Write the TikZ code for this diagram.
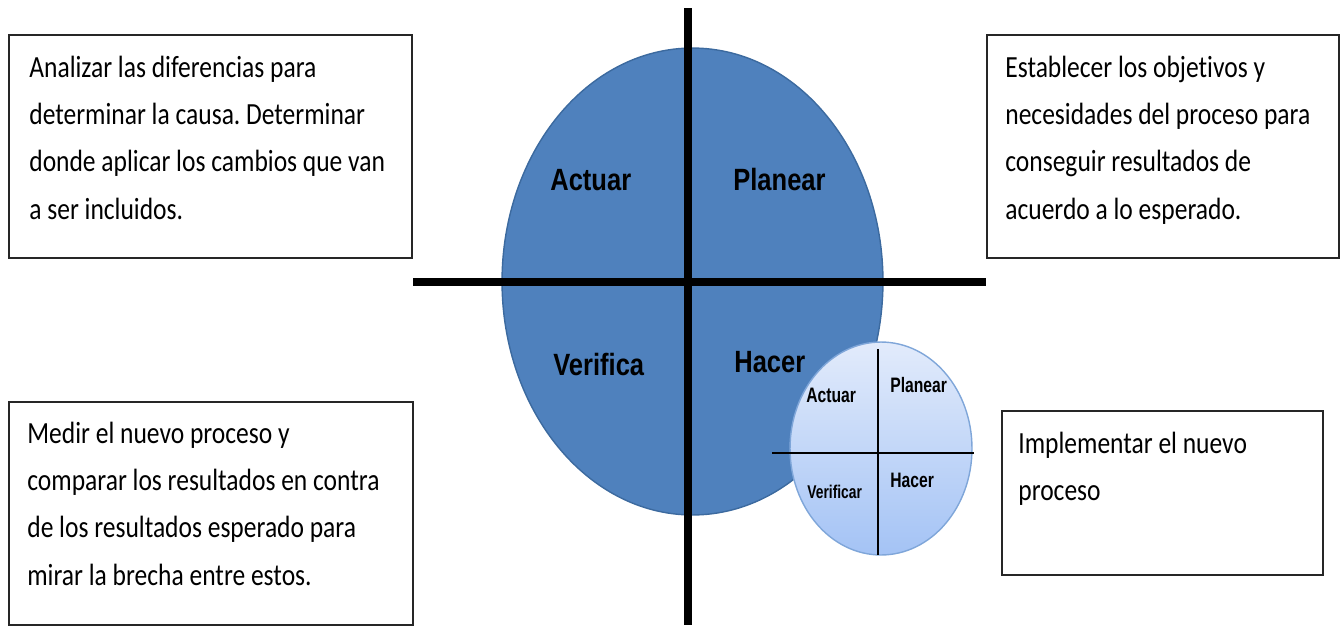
\documentclass[tikz,border=0pt]{standalone}
\usepackage{fontspec}
\usepackage{tikz}
\usetikzlibrary{shapes.geometric,positioning}
\newfontfamily\cajafont[FakeStretch=0.83, Ligatures=NoCommon]{Carlito}
\newfontfamily\rotulofont[FakeStretch=0.83]{Liberation Sans}
\newfontfamily\minifont[FakeStretch=0.75]{Liberation Sans}
\definecolor{azul}{HTML}{4F81BD}
\definecolor{azulborde}{HTML}{3C6A9F}
\definecolor{celesteA}{HTML}{E2EBFB}
\definecolor{celesteB}{HTML}{A4C3F5}
\definecolor{celesteborde}{HTML}{7FA6D9}
\tikzset{
    caja/.style={
           rectangle,
           draw=black!85, line width=0.9pt,
           inner sep=0pt},
    ovalo/.style={
           ellipse,
           line width=0.8pt,
           inner sep=0pt},
    texto/.style={
           anchor=base west,
           inner sep=0pt,
           text width=9cm, align=flush left,
           font=\cajafont\frenchspacing\fontsize{17.5}{27}\selectfont},
    rotulo/.style={
           anchor=base west,
           inner sep=0pt,
           font=\rotulofont\bfseries\fontsize{17.5}{21}\selectfont},
    mini/.style={
           anchor=base west,
           inner sep=0pt,
           font=\minifont\bfseries\fontsize{11.9}{14}\selectfont},
    eje/.style={
           line width=4pt},
    ejemini/.style={
           line width=0.9pt}
}

\begin{document}
\begin{tikzpicture}[x=0.02cm, y=-0.02cm]
        \useasboundingbox (0,0) rectangle (1341,626);

        % ciclo grande
        \node[ovalo, fill=azul, draw=azulborde, minimum width=7.62cm, minimum height=9.34cm] (ciclo) at (692.5,281.5) {};
        \node[rotulo] (actuar) at (550,190) {Actuar};
        \node[rotulo] (planear) at (733,190) {Planear};
        \node[rotulo] (verifica) at (553,375) {Verifica};
        \node[rotulo] (hacer) at (734,372) {Hacer};

        \coordinate (ejeN) at (688,8);
        \coordinate (ejeS) at (688,625);
        \coordinate (ejeO) at (413,282);
        \coordinate (ejeE) at (986,282);
        \draw[eje] (ejeN) -- (ejeS);
        \draw[eje] (ejeO) -- (ejeE);

        % ciclo pequeno
        \node[ovalo, top color=celesteA, bottom color=celesteB, draw=celesteborde, minimum width=3.64cm, minimum height=4.26cm] (ciclomini) at (881,448.5) {};
        \node[mini] (miniactuar) at (806,402) {Actuar};
        \node[mini] (miniplanear) at (890,392) {Planear};
        \node[mini, font=\minifont\bfseries\fontsize{10.5}{12}\selectfont] (miniverificar) at (807,498) {Verificar};
        \node[mini] (minihacer) at (890,487) {Hacer};

        \coordinate (miniN) at (878,349);
        \coordinate (miniS) at (878,555);
        \coordinate (miniO) at (772,453);
        \coordinate (miniE) at (974,453);
        \draw[ejemini] (miniN) -- (miniS);
        \draw[ejemini] (miniO) -- (miniE);

        % cajas
        \node[caja, minimum width=8.06cm, minimum height=4.46cm] (cajaactuar) at (210.5,146.5) {};
        \node[caja, minimum width=7.04cm, minimum height=4.46cm] (cajaplanear) at (1163,146.5) {};
        \node[caja, minimum width=8.08cm, minimum height=4.46cm] (cajaverifica) at (211,513.5) {};
        \node[caja, minimum width=6.42cm, minimum height=3.28cm] (cajahacer) at (1162.5,493) {};

        \node[texto] (txtactuar) at (29,77) {Analizar las diferencias para\\determinar la causa. Determinar\\donde aplicar los cambios que van\\a ser incluidos.};
        \node[texto] (txtplanear) at (1005,77) {Establecer los objetivos y\\necesidades del proceso para\\conseguir resultados de\\acuerdo a lo esperado.};
        \node[texto] (txtverifica) at (27,443) {Medir el nuevo proceso y\\comparar los resultados en contra\\de los resultados esperado para\\mirar la brecha entre estos.};
        \node[texto] (txthacer) at (1018,453) {Implementar el nuevo\\proceso};
\end{tikzpicture}
\end{document}
